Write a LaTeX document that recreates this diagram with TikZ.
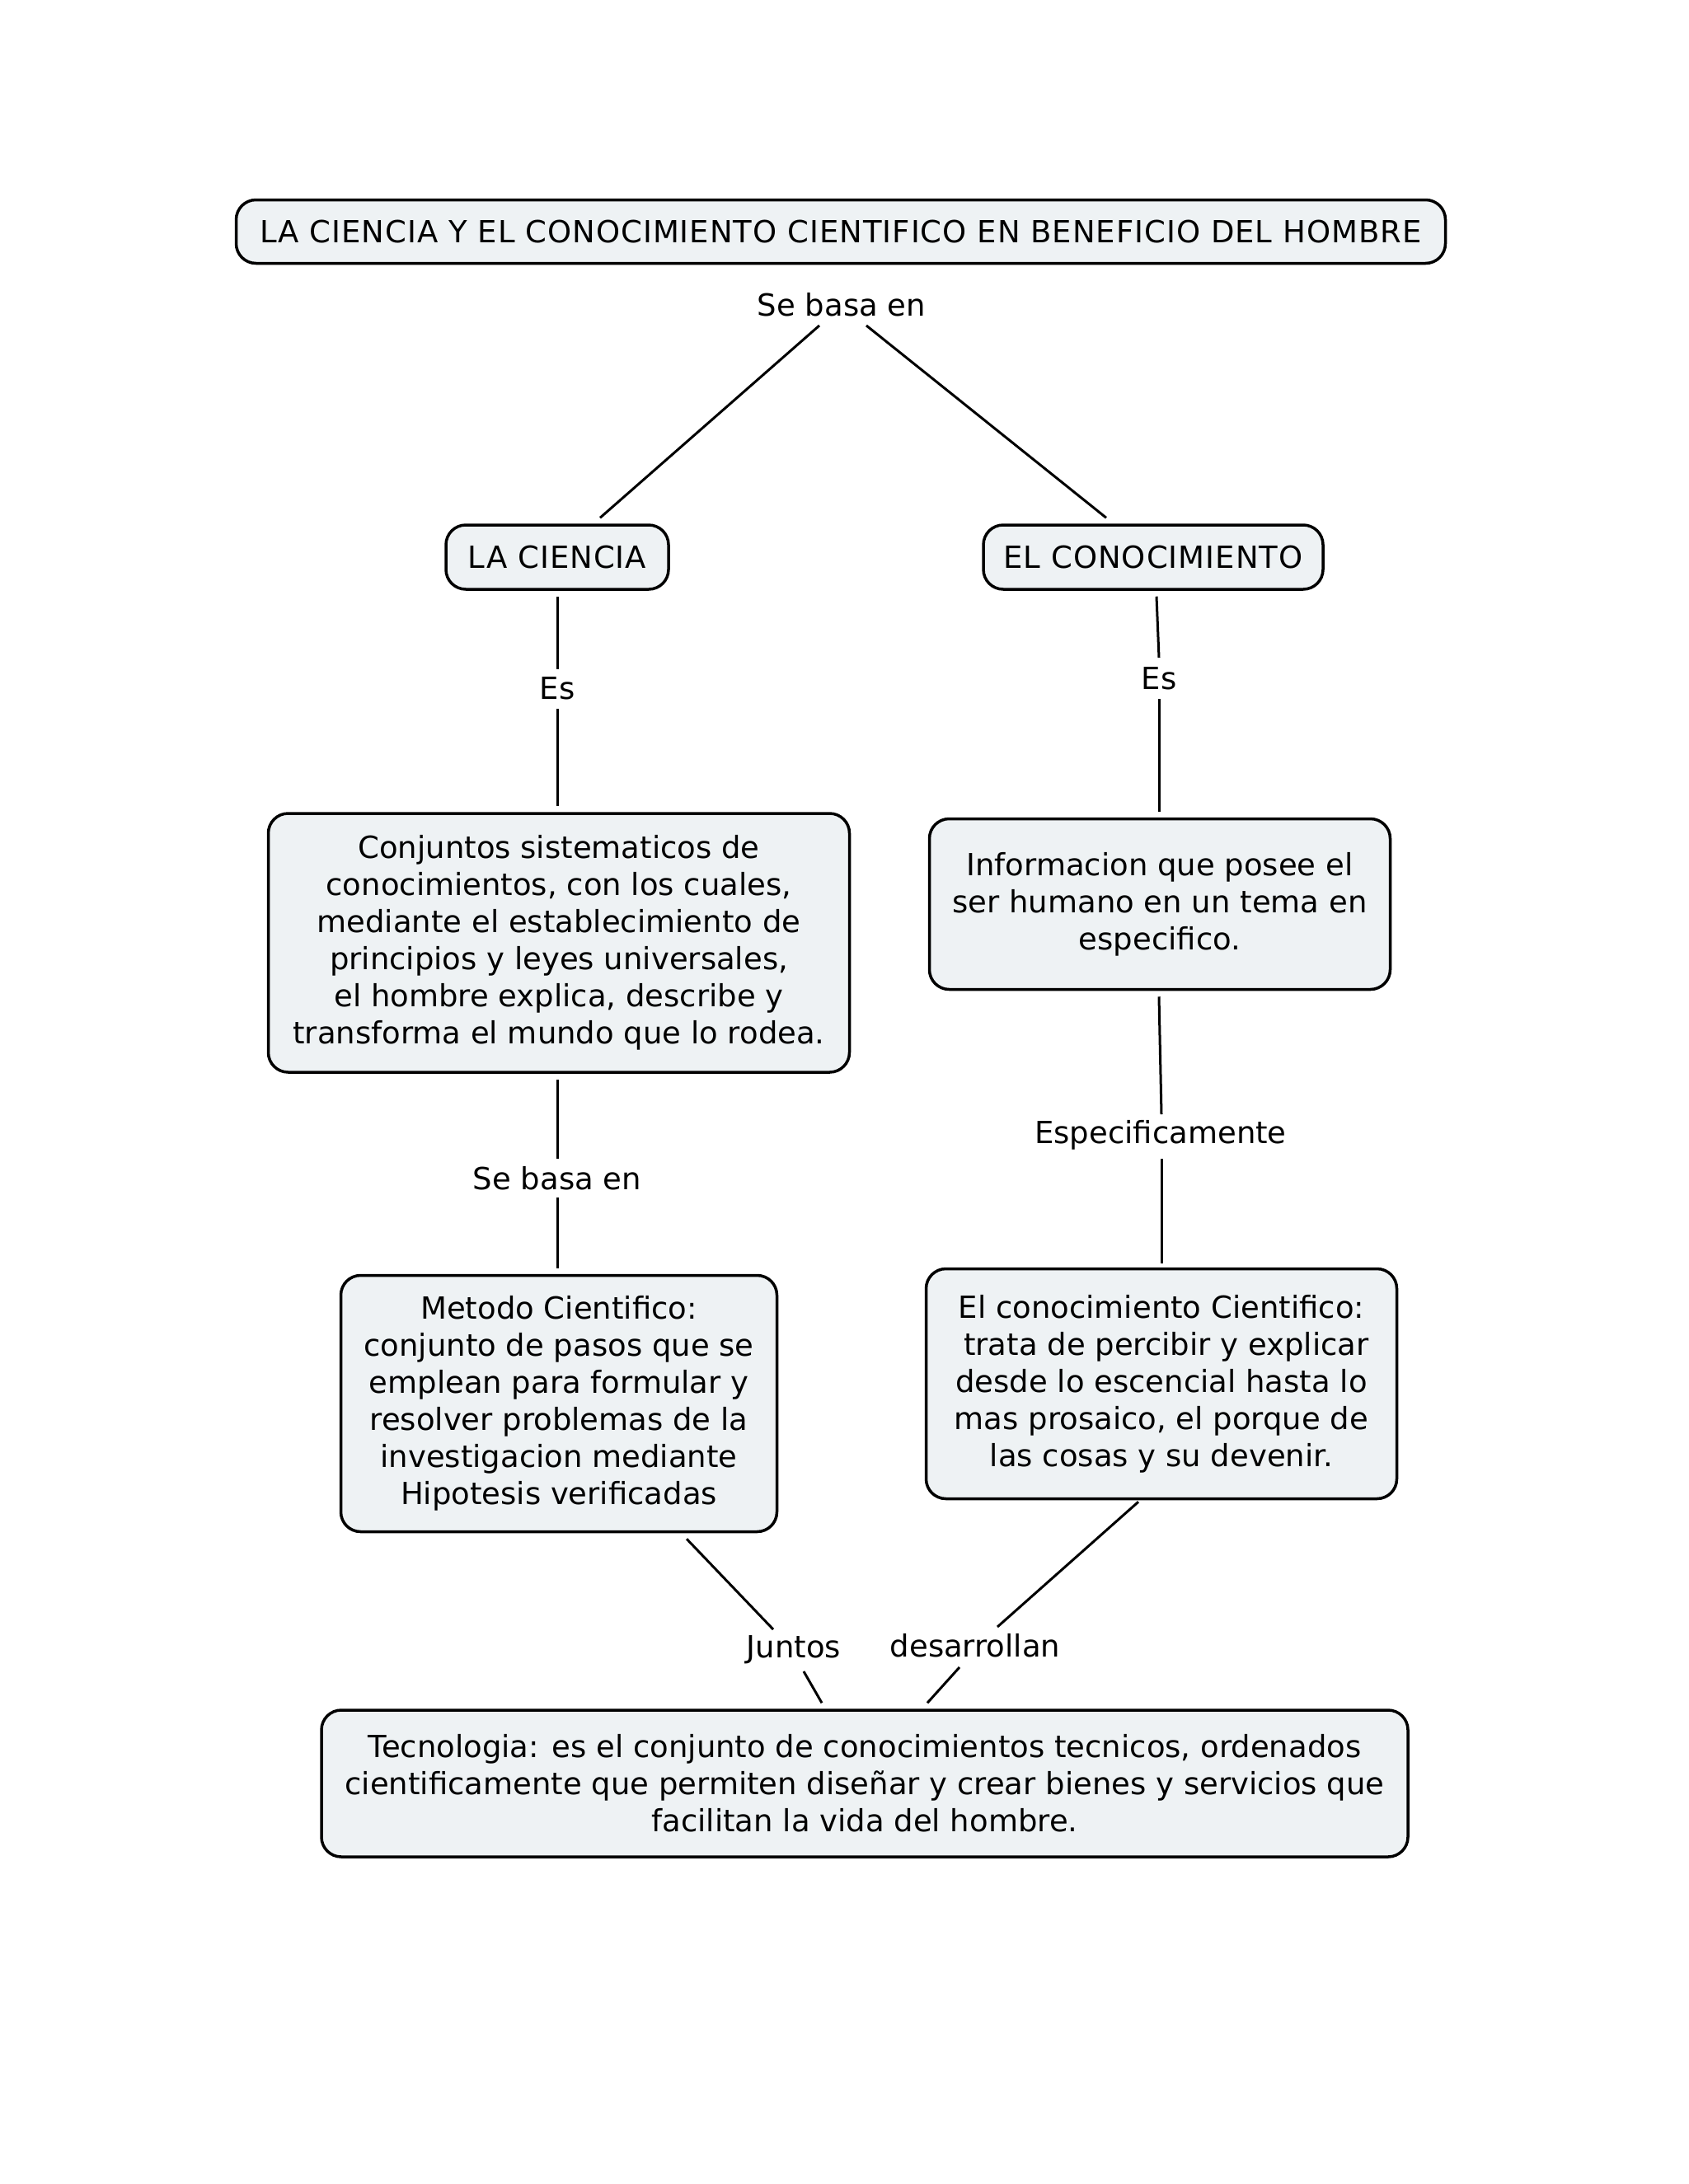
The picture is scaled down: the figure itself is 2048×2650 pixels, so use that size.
\documentclass[tikz,border=0pt]{standalone}
\usepackage{fontspec}
\setmainfont{DejaVu Sans}
\newfontfamily\capsfont[LetterSpace=2.7]{DejaVu Sans}
\usetikzlibrary{calc}
\definecolor{boxfill}{HTML}{EEF2F4}
\tikzset{
  box/.style={draw=black, line width=3.5pt, rounded corners=24pt, fill=boxfill,
    align=center, inner sep=0pt, font=\fontsize{37}{45}\selectfont},
  capsbox/.style={box, font=\capsfont\fontsize{37}{45}\selectfont},
  lbl/.style={inner sep=0pt, font=\fontsize{37}{45}\selectfont},
  conn/.style={line width=3pt, draw=black}
}
\begin{document}
\begin{tikzpicture}[x=1pt,y=-1pt]
\fill[white] (0,0) rectangle (2048,2650);
\useasboundingbox (0,0) rectangle (2048,2650);

\node[capsbox, minimum width=1467pt, minimum height=77pt] (title) at (1020,281)
  {LA CIENCIA Y EL CONOCIMIENTO CIENTIFICO EN BENEFICIO DEL HOMBRE};
\node[lbl] (sb1) at (1021,370) {Se basa en};

\node[capsbox, minimum width=270pt, minimum height=78pt] (lc) at (676,676) {LA CIENCIA};
\node[capsbox, minimum width=412pt, minimum height=78pt] (ek) at (1399,676) {EL CONOCIMIENTO};

\node[lbl] (es1) at (676,835) {Es};
\node[lbl] (es2) at (1406,823) {Es};

\node[box, minimum width=705pt, minimum height=314pt] (cs) at (678,1144)
  {Conjuntos sistematicos de\\conocimientos, con los cuales,\\mediante el establecimiento de\\principios y leyes universales,\\el hombre explica, describe y\\transforma el mundo que lo rodea.};
\node[box, minimum width=559pt, minimum height=207pt] (info) at (1407,1097)
  {Informacion que posee el\\ser humano en un tema en\\especifico.};

\node[lbl] (sb2) at (676,1430) {Se basa en};
\node[lbl] (sp) at (1408,1377) {Especificamente};

\node[box, minimum width=529pt, minimum height=311pt] (mc) at (678,1703)
  {Metodo Cientifico:\\conjunto de pasos que se\\emplean para formular y\\resolver problemas de la\\investigacion mediante\\Hipotesis verificadas};
\node[box, minimum width=571pt, minimum height=279pt] (kc) at (1409,1679)
  {El conocimiento Cientifico:\\\ trata de percibir y explicar\\desde lo escencial hasta lo\\mas prosaico, el porque de\\las cosas y su devenir.};

\node[lbl] (ju) at (963,2002) {Juntos};
\node[lbl] (de) at (1183,1997) {desarrollan};

\node[box, minimum width=1318pt, minimum height=178pt] (tec) at (1049,2164)
  {Tecnologia: es el conjunto de conocimientos tecnicos, ordenados\\cientificamente que permiten diseñar y crear bienes y servicios que\\facilitan la vida del hombre.};

% connectors
\draw[conn] ($(sb1)+(-27,25)$) -- ($(lc.north)+(52,-7)$);
\draw[conn] ($(sb1)+(30,25)$) -- ($(ek.north)+(-57,-7)$);

\draw[conn] ($(lc.south)+(0,7)$) -- ($(es1)+(0,-23)$);
\draw[conn] ($(es1)+(0,25)$) -- ($(cs.north)+(-2,-7)$);

\draw[conn] ($(ek.south)+(4,7)$) -- ($(es2)+(0,-25)$);
\draw[conn] ($(es2)+(0,25)$) -- ($(info.north)+(-1,-7)$);

\draw[conn] ($(cs.south)+(-2,7)$) -- ($(sb2)+(0,-24)$);
\draw[conn] ($(sb2)+(0,23)$) -- ($(mc.north)+(-2,-7)$);

\draw[conn] ($(info.south)+(-1,7)$) -- ($(sp)+(1,-25)$);
\draw[conn] ($(sp)+(1,29)$) -- ($(kc.north)+(0,-5)$);

\draw[conn] ($(mc.south)+(155,7)$) -- ($(ju)+(-25,-25)$);
\draw[conn] ($(ju)+(12,26)$) -- ($(tec.north)+(-52,-7)$);

\draw[conn] ($(kc.south)+(-28,2)$) -- ($(de)+(27,-23)$);
\draw[conn] ($(de)+(-19,26)$) -- ($(tec.north)+(76,-7)$);
\end{tikzpicture}
\end{document}
